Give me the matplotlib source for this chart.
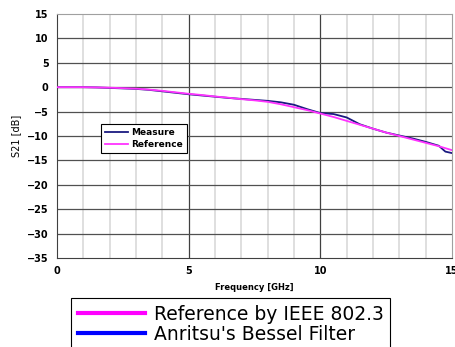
import numpy as np
import matplotlib.pyplot as plt
from matplotlib.lines import Line2D

# frequency points [GHz]
freq = [0, 0.5, 1, 1.5, 2, 2.5, 3, 3.5, 4, 4.5, 5, 5.5, 6, 6.5, 7, 7.5, 8, 8.5,
        9, 9.5, 10, 10.5, 11, 11.5, 12, 12.5, 13, 13.5, 14, 14.5, 14.75, 15]
# S21 reference curve (IEEE 802.3) [dB]
reference = [0, 0, 0, -0.05, -0.1, -0.2, -0.3, -0.5, -0.75, -1.05, -1.35, -1.6,
             -1.9, -2.15, -2.45, -2.7, -3.0, -3.5, -4.1, -4.7, -5.4, -6.1, -6.9,
             -7.7, -8.5, -9.3, -10.0, -10.7, -11.4, -12.1, -12.5, -12.9]
# S21 measured (Anritsu Bessel filter) [dB]
measure = [0, 0, 0, -0.05, -0.15, -0.25, -0.35, -0.55, -0.85, -1.15, -1.45, -1.7,
           -1.95, -2.2, -2.4, -2.6, -2.8, -3.1, -3.6, -4.5, -5.3, -5.5, -6.2,
           -7.6, -8.5, -9.3, -9.9, -10.5, -11.2, -12.0, -13.2, -13.5]

x_ticks = [0, 5, 10, 15]
y_ticks = [15, 10, 5, 0, -5, -10, -15, -20, -25, -30, -35]

fig = plt.figure(figsize=(4.55, 3.47), dpi=100)
ax = fig.add_axes([0.1253, 0.2565, 0.868, 0.7032])

# light minor grid every 1 GHz
for f in range(1, 15):
    if f % 5:
        ax.axvline(f, color='#d9d9d9', lw=1.2, zorder=0)
for f in [5, 10]:
    ax.axvline(f, color='#404040', lw=0.9, zorder=1)
for v in y_ticks[1:-1]:
    ax.axhline(v, color='#505050', lw=0.9, zorder=1)

ax.plot(freq, measure, color='#1a1a80', lw=1.3, zorder=3, label='Measure')
ax.plot(freq, reference, color='#ff33ff', lw=1.3, zorder=4, label='Reference')

ax.set_xlim(0, 15)
ax.set_ylim(-35, 15)
ax.set_xticks(x_ticks)
ax.set_yticks(y_ticks)
ax.tick_params(length=0, labelsize=7, pad=6)
for lab in ax.get_xticklabels() + ax.get_yticklabels():
    lab.set_fontweight('bold')
ax.spines['left'].set_color('#404040')
ax.spines['bottom'].set_color('#404040')
ax.spines['top'].set_color('#a0a0a0')
ax.spines['right'].set_color('#a0a0a0')

ax.set_xlabel('Frequency [GHz]', fontsize=6, fontweight='bold', labelpad=5)
ax.set_ylabel('S21 [dB]', fontsize=7, labelpad=4)

leg = ax.legend(loc='upper left', bbox_to_anchor=(0.111, 0.549),
                prop={'weight': 'bold', 'size': 6.5}, fancybox=False,
                edgecolor='black', framealpha=1, handlelength=2.6,
                handletextpad=0.3, borderpad=0.45, labelspacing=0.3,
                borderaxespad=0)
leg.get_frame().set_linewidth(0.8)

handles = [Line2D([], [], color='#ff00ff', lw=3),
           Line2D([], [], color='#0000ff', lw=3)]
big = fig.legend(handles, ["Reference by IEEE 802.3", "Anritsu's Bessel Filter"],
                 loc='upper left', bbox_to_anchor=(71 / 455, 1 - 298 / 347),
                 fontsize=13.5, fancybox=False, edgecolor='black', framealpha=1,
                 handlelength=3.6, handletextpad=0.45, borderpad=0.35,
                 labelspacing=0.05, borderaxespad=0)
big.get_frame().set_linewidth(0.8)

fig.savefig('out.png', dpi=100)
